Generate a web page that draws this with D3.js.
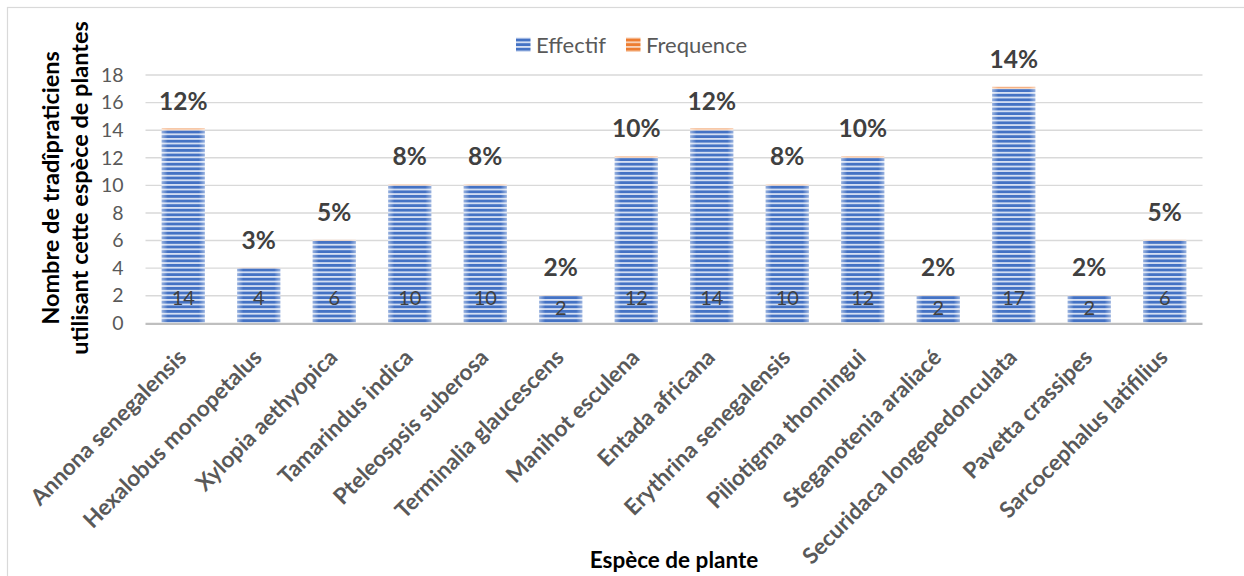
<!DOCTYPE html>
<html>
<head>
<meta charset="utf-8">
<script src="https://cdn.jsdelivr.net/npm/d3@7"></script>
<style>
  html, body { margin: 0; padding: 0; background: #fff; }
  svg { display: block; font-family: Lato, "Open Sans", sans-serif; }
</style>
</head>
<body>
<svg id="chart" width="1244" height="576"></svg>
<script>
// Species surveyed and the number of traditional practitioners using each one
const species = [
  "Annona senegalensis", "Hexalobus monopetalus", "Xylopia aethyopica",
  "Tamarindus indica", "Pteleospsis suberosa", "Terminalia glaucescens",
  "Manihot esculena", "Entada africana", "Erythrina senegalensis",
  "Piliotigma thonningui", "Steganotenia araliacé", "Securidaca longepedonculata",
  "Pavetta crassipes", "Sarcocephalus latifilius"
];
const effectif = [14, 4, 6, 10, 10, 2, 12, 14, 10, 12, 2, 17, 2, 6];
const frequence = [0.12, 0.03, 0.05, 0.08, 0.08, 0.02, 0.10, 0.12, 0.08, 0.10, 0.02, 0.14, 0.02, 0.05];
const seriesNames = ["Effectif", "Frequence"];
const yTicks = [0, 2, 4, 6, 8, 10, 12, 14, 16, 18];

const svg = d3.select("#chart");
const W = 1244, H = 576;
const plot = { left: 145.5, right: 1202.5, top: 75, bottom: 323.3 };

const rows = species.map((s, i) => ({ species: s, Effectif: effectif[i], Frequence: frequence[i] }));
const stacked = d3.stack().keys(seriesNames)(rows);

const x = d3.scaleBand().domain(species).range([plot.left, plot.right]).paddingInner(0.43).paddingOuter(0.215);
const y = d3.scaleLinear().domain([0, 18]).range([plot.bottom, plot.top]);

const colors = { Effectif: ["#4472C4", "#d6e0f3"], Frequence: ["#ED7D31", "#f8d3b9"] };

// Striped fills and a soft edge highlight for the bars
const defs = svg.append("defs");
seriesNames.forEach(k => {
  const p = defs.append("pattern").attr("id", "stripe-" + k)
    .attr("patternUnits", "userSpaceOnUse").attr("width", 10).attr("height", 4.6);
  p.append("rect").attr("width", 10).attr("height", 4.6).attr("fill", colors[k][0]);
  p.append("rect").attr("y", 0).attr("width", 10).attr("height", 1.8).attr("fill", colors[k][1]);
});
const g = defs.append("linearGradient").attr("id", "edge").attr("x1", 0).attr("x2", 1).attr("y1", 0).attr("y2", 0);
[[0, 0.45], [0.14, 0], [0.86, 0], [1, 0.45]].forEach(([o, a]) =>
  g.append("stop").attr("offset", o).attr("stop-color", "#fff").attr("stop-opacity", a));

// Outer chart frame
svg.append("rect").attr("x", 7.5).attr("y", 7.5).attr("width", W + 20).attr("height", H + 20)
  .attr("fill", "none").attr("stroke", "#d9d9d9").attr("stroke-width", 1.2);

// Gridlines
svg.append("g").selectAll("line").data(yTicks.filter(t => t > 0)).join("line")
  .attr("x1", plot.left).attr("x2", plot.right)
  .attr("y1", d => y(d)).attr("y2", d => y(d))
  .attr("stroke", "#d9d9d9").attr("stroke-width", 1.4);

// Y axis tick labels
const yAxis = svg.append("g").attr("transform", `translate(${plot.left},0)`)
  .call(d3.axisLeft(y).tickValues(yTicks).tickSize(0).tickPadding(22));
yAxis.select(".domain").remove();
yAxis.selectAll("text").attr("font-family", "Lato, sans-serif").attr("font-size", 19.5)
  .attr("fill", "#595959");

// Bars
const layers = svg.append("g").selectAll("g").data(stacked).join("g")
  .attr("fill", d => `url(#stripe-${d.key})`);
layers.selectAll("rect").data(d => d).join("rect")
  .attr("x", d => x(d.data.species))
  .attr("width", x.bandwidth())
  .attr("y", d => y(d[1]))
  .attr("height", d => y(d[0]) - y(d[1]));
svg.append("g").selectAll("rect").data(rows).join("rect")
  .attr("x", d => x(d.species)).attr("width", x.bandwidth())
  .attr("y", d => y(d.Effectif + d.Frequence))
  .attr("height", d => plot.bottom - y(d.Effectif + d.Frequence))
  .attr("fill", "url(#edge)");

// X axis baseline
svg.append("line").attr("x1", plot.left).attr("x2", plot.right)
  .attr("y1", plot.bottom + 0.5).attr("y2", plot.bottom + 0.5)
  .attr("stroke", "#bfbfbf").attr("stroke-width", 2.2);

// Count labels at the base of each bar
svg.append("g").selectAll("text").data(rows).join("text")
  .attr("x", d => x(d.species) + x.bandwidth() / 2)
  .attr("y", d => Math.max(plot.bottom - 25.5, y(d.Effectif) + 12))
  .attr("dy", "0.36em")
  .attr("text-anchor", "middle")
  .attr("font-size", 20).attr("fill", "#404040")
  .text(d => d.Effectif);

// Frequency labels above each bar
const pct = d3.format(".0%");
svg.append("g").selectAll("text").data(rows).join("text")
  .attr("x", d => x(d.species) + x.bandwidth() / 2)
  .attr("y", d => y(d.Effectif + d.Frequence) - 19)
  .attr("text-anchor", "middle")
  .attr("font-size", 24.5).attr("font-weight", 700).attr("fill", "#404040")
  .text(d => pct(d.Frequence));

// Rotated category labels
svg.append("g").selectAll("text").data(species).join("text")
  .attr("transform", d => `translate(${x(d) + x.bandwidth() / 2 - 5},${plot.bottom + 26}) rotate(-45)`)
  .attr("text-anchor", "end")
  .attr("dy", "0.6em")
  .attr("font-size", 22.5).attr("font-weight", 700).attr("fill", "#595959")
  .text(d => d);

// Axis titles
svg.append("text")
  .attr("x", (plot.left + plot.right) / 2).attr("y", 568)
  .attr("text-anchor", "middle").attr("font-size", 22.5).attr("font-weight", 700).attr("fill", "#000")
  .text("Espèce de plante");
const yt = svg.append("text").attr("transform", "translate(51,188) rotate(-90)")
  .attr("text-anchor", "middle").attr("font-size", 23.5).attr("font-weight", 700).attr("fill", "#000");
yt.append("tspan").attr("x", 0).attr("dy", "0.35em").text("Nombre de tradîpraticiens");
yt.append("tspan").attr("x", 0).attr("dy", "1.24em").text("utilisant cette espèce de plantes");

// Legend
const legend = svg.append("g");
const legendX = [516, 626];
seriesNames.forEach((k, i) => {
  legend.append("rect").attr("x", legendX[i]).attr("y", 37.5).attr("width", 14.5).attr("height", 14.5)
    .attr("fill", `url(#stripe-${k})`);
  legend.append("text").attr("x", legendX[i] + 20).attr("y", 52.5)
    .attr("font-size", 22).attr("fill", "#595959").text(k);
});
</script>
</body>
</html>
